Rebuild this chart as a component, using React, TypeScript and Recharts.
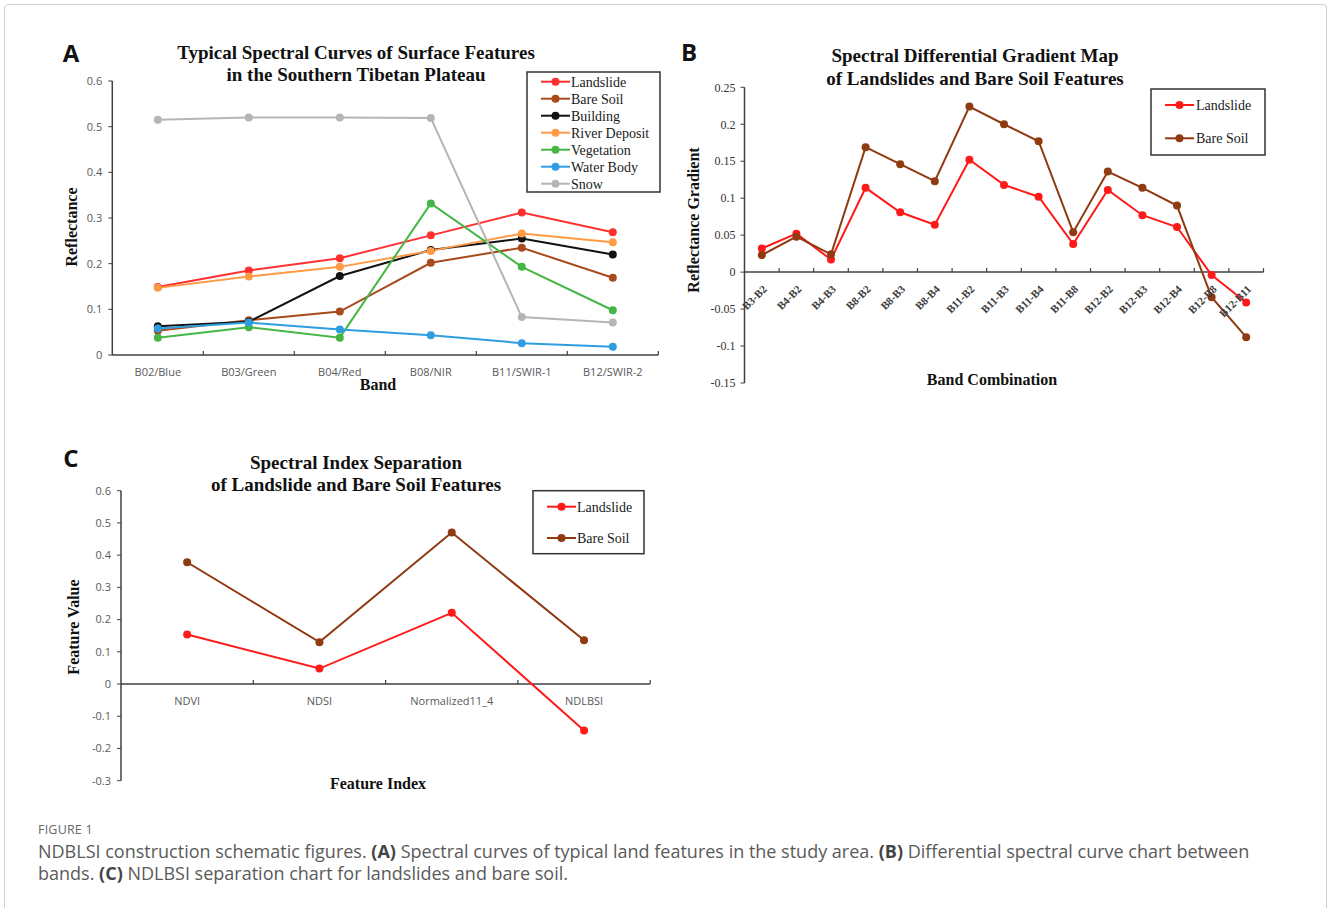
import React from "react";
import { LineChart, Line, XAxis, YAxis, ReferenceLine } from "recharts";

// ---- Panel A: typical spectral curves ----
const bands = ["B02/Blue", "B03/Green", "B04/Red", "B08/NIR", "B11/SWIR-1", "B12/SWIR-2"];
const landslideA = [0.149, 0.185, 0.212, 0.262, 0.312, 0.269];
const bareSoilA = [0.053, 0.076, 0.095, 0.202, 0.235, 0.169];
const buildingA = [0.063, 0.073, 0.173, 0.23, 0.255, 0.22];
const riverDepositA = [0.147, 0.172, 0.193, 0.228, 0.266, 0.247];
const vegetationA = [0.038, 0.061, 0.038, 0.332, 0.193, 0.098];
const waterBodyA = [0.058, 0.071, 0.056, 0.043, 0.026, 0.018];
const snowA = [0.515, 0.52, 0.52, 0.519, 0.083, 0.071];
const ticksA = [0, 0.1, 0.2, 0.3, 0.4, 0.5, 0.6];

// ---- Panel B: differential gradients ----
const combos = [
  "B3-B2", "B4-B2", "B4-B3", "B8-B2", "B8-B3", "B8-B4", "B11-B2", "B11-B3",
  "B11-B4", "B11-B8", "B12-B2", "B12-B3", "B12-B4", "B12-B8", "B12-B11",
];
const landslideB = [0.032, 0.052, 0.017, 0.114, 0.081, 0.064, 0.152, 0.118, 0.102, 0.038, 0.111, 0.077, 0.061, -0.004, -0.041];
const bareSoilB = [0.023, 0.048, 0.024, 0.169, 0.146, 0.123, 0.224, 0.2, 0.177, 0.054, 0.136, 0.114, 0.09, -0.034, -0.088];
const ticksB = [-0.15, -0.1, -0.05, 0, 0.05, 0.1, 0.15, 0.2, 0.25];

// ---- Panel C: index separation ----
const indices = ["NDVI", "NDSI", "Normalized11_4", "NDLBSI"];
const landslideC = [0.154, 0.048, 0.221, -0.144];
const bareSoilC = [0.378, 0.13, 0.47, 0.136];
const ticksC = [-0.3, -0.2, -0.1, 0, 0.1, 0.2, 0.3, 0.4, 0.5, 0.6];

const serif = "'Liberation Serif', 'Times New Roman', serif";
const sans = "'Open Sans', 'Liberation Sans', sans-serif";
const axisGrey = "#404040";

const seriesA = [
  { name: "Landslide", values: landslideA, color: "#ff3030" },
  { name: "Bare Soil", values: bareSoilA, color: "#a84a1c" },
  { name: "Building", values: buildingA, color: "#111111" },
  { name: "River Deposit", values: riverDepositA, color: "#ff9a45" },
  { name: "Vegetation", values: vegetationA, color: "#45b645" },
  { name: "Water Body", values: waterBodyA, color: "#2f9ee0" },
  { name: "Snow", values: snowA, color: "#b5b5b5" },
];
const seriesB = [
  { name: "Landslide", values: landslideB, color: "#ff1a1a" },
  { name: "Bare Soil", values: bareSoilB, color: "#8f3a10" },
];
const seriesC = [
  { name: "Landslide", values: landslideC, color: "#ff1a1a" },
  { name: "Bare Soil", values: bareSoilC, color: "#8f3a10" },
];

const dataA = bands.map((b, i) => {
  const row: Record<string, any> = { band: b };
  seriesA.forEach((s) => (row[s.name] = s.values[i]));
  return row;
});
const dataB = combos.map((c, i) => {
  const row: Record<string, any> = { combo: c };
  seriesB.forEach((s) => (row[s.name] = s.values[i]));
  return row;
});
const dataC = indices.map((c, i) => {
  const row: Record<string, any> = { index: c };
  seriesC.forEach((s) => (row[s.name] = s.values[i]));
  return row;
});

// plot geometry (px)
const A = { left: 30, top: 40, w: 640, h: 360, axisX: 112.3, plotR: 658.3, plotT: 81, plotB: 355 };
const B = { left: 680, top: 40, w: 600, h: 360, axisX: 744.5, plotR: 1263.5, plotT: 87.3, plotB: 383 };
const C = { left: 30, top: 450, w: 640, h: 345, axisX: 121, plotR: 650.2, plotT: 490.7, plotB: 780.7 };
const YW = 40;
const XH = 10;

const margins = (g: typeof A, xh: number) => ({
  left: g.axisX - g.left - YW,
  right: g.left + g.w - g.plotR,
  top: g.plotT - g.top,
  bottom: g.top + g.h - g.plotB - xh,
});

const halfA = (A.plotR - A.axisX) / bands.length / 2;
const halfB = (B.plotR - B.axisX) / combos.length / 2;
const halfC = (C.plotR - C.axisX) / indices.length / 2;

const Txt: React.FC<{ x: number; y: number; size: number; font?: string; bold?: boolean; rotate?: boolean; color?: string; children: React.ReactNode }> = ({ x, y, size, font = serif, bold = true, rotate, color = "#111", children }) => (
  <div
    style={{
      position: "absolute",
      left: x,
      top: y,
      transform: `translate(-50%, -50%)${rotate ? " rotate(-90deg)" : ""}`,
      whiteSpace: "nowrap",
      fontFamily: font,
      fontWeight: bold ? 700 : 400,
      fontSize: size,
      color,
      lineHeight: 1,
    }}
  >
    {children}
  </div>
);

const LegendBox: React.FC<{
  series: { name: string; color: string }[];
  left: number; top: number; width: number; height: number;
  rows: number[]; lineX: [number, number]; textX: number;
}> = ({ series, left, top, width, height, rows, lineX, textX }) => (
  <svg style={{ position: "absolute", left: 0, top: 0 }} width={1328} height={908} pointerEvents="none">
    <rect x={left} y={top} width={width} height={height} fill="#fff" stroke="#333" strokeWidth={1.5} />
    {series.map((s, i) => (
      <g key={s.name}>
        <line x1={lineX[0]} x2={lineX[1]} y1={rows[i]} y2={rows[i]} stroke={s.color} strokeWidth={2} />
        <circle cx={(lineX[0] + lineX[1]) / 2} cy={rows[i]} r={4} fill={s.color} />
        <text x={textX} y={rows[i]} dy="0.35em" fontFamily={serif} fontSize={14} fill="#1a1a1a">
          {s.name}
        </text>
      </g>
    ))}
  </svg>
);

// tick: category label plus a boundary tick pointing up from the axis line
const makeTick = (halfBand: number, shift: number, rotated: boolean) => (props: any) => {
  const { x, y, payload } = props;
  const y0 = y - shift;
  return (
    <g>
      <line x1={x + halfBand} x2={x + halfBand} y1={y0} y2={y0 - 4} stroke={axisGrey} strokeWidth={1.2} />
      {rotated ? (
        <text
          transform={`translate(${x + 3},${y0 + 15}) rotate(-45)`}
          textAnchor="end"
          dy="0.35em"
          fontFamily={serif}
          fontWeight={700}
          fontSize={11}
          fill="#3a3a3a"
        >
          {payload.value}
        </text>
      ) : (
        <text x={x} y={y0 + 17} dy="0.35em" textAnchor="middle" fontFamily={sans} fontSize={11} fill="#595959">
          {payload.value}
        </text>
      )}
    </g>
  );
};

const tickA = makeTick(halfA, 0, false);
const tickB = makeTick(
  halfB,
  ((B.plotB - B.plotT) * (0 - ticksB[0])) / (ticksB[ticksB.length - 1] - ticksB[0]),
  true
);
const tickC = makeTick(
  halfC,
  ((C.plotB - C.plotT) * (0 - ticksC[0])) / (ticksC[ticksC.length - 1] - ticksC[0]),
  false
);

const lineFor = (s: { name: string; color: string }) => (
  <Line
    key={s.name}
    type="linear"
    dataKey={s.name}
    stroke={s.color}
    strokeWidth={2}
    dot={{ r: 4, fill: s.color, stroke: s.color, strokeWidth: 0 }}
    activeDot={false}
    isAnimationActive={false}
  />
);

const bold = { color: "#444" };

export default function App() {
  return (
    <div style={{ position: "absolute", left: 0, top: 0, width: 1328, height: 908, background: "#fff", overflow: "hidden" }}>
      <div style={{ position: "absolute", left: 4, top: 4, width: 1321, height: 940, border: "1px solid #cfcfcf", borderRadius: 4 }} />

      {/* Panel A */}
      <div style={{ position: "absolute", left: A.left, top: A.top }}>
        <LineChart width={A.w} height={A.h} data={dataA} margin={margins(A, 30)}>
          <XAxis dataKey="band" height={30} padding={{ left: halfA, right: halfA }} tickSize={0} tickMargin={0} tick={tickA} axisLine={{ stroke: axisGrey, strokeWidth: 1.5 }} tickLine={false} interval={0} />
          <YAxis
            width={YW}
            domain={[0, 0.6]}
            ticks={ticksA}
            tickSize={4}
            tickMargin={6}
            axisLine={{ stroke: axisGrey, strokeWidth: 1.5 }}
            tickLine={{ stroke: axisGrey }}
            tick={{ fontFamily: sans, fontSize: 11, fill: "#595959" }}
          />
          {seriesA.map(lineFor)}
        </LineChart>
      </div>
      <Txt x={71} y={53} size={24} font={sans}>A</Txt>
      <Txt x={356} y={51.5} size={19}>Typical Spectral Curves of Surface Features</Txt>
      <Txt x={356} y={73.5} size={19}>in the Southern Tibetan Plateau</Txt>
      <Txt x={72} y={227} size={16} rotate>Reflectance</Txt>
      <Txt x={378} y={385} size={16}>Band</Txt>
      <LegendBox
        series={seriesA}
        left={527}
        top={72}
        width={133}
        height={120}
        rows={[81.7, 98.7, 115.7, 132.7, 149.7, 166.7, 183.7]}
        lineX={[541, 570]}
        textX={571}
      />

      {/* Panel B */}
      <div style={{ position: "absolute", left: B.left, top: B.top }}>
        <LineChart width={B.w} height={B.h} data={dataB} margin={margins(B, XH)}>
          <XAxis dataKey="combo" height={XH} padding={{ left: halfB, right: halfB }} tickSize={0} tickMargin={0} tick={tickB} axisLine={false} tickLine={false} interval={0} />
          <YAxis
            width={YW}
            domain={[-0.15, 0.25]}
            ticks={ticksB}
            tickSize={4}
            tickMargin={5}
            axisLine={{ stroke: axisGrey, strokeWidth: 1.5 }}
            tickLine={{ stroke: axisGrey }}
            tick={{ fontFamily: serif, fontSize: 12, fill: "#333" }}
          />
          <ReferenceLine y={0} stroke={axisGrey} strokeWidth={1.5} />
          {seriesB.map(lineFor)}
        </LineChart>
      </div>
      <Txt x={689} y={52} size={24} font={sans}>B</Txt>
      <Txt x={975} y={55} size={19}>Spectral Differential Gradient Map</Txt>
      <Txt x={975} y={77.5} size={19}>of Landslides and Bare Soil Features</Txt>
      <Txt x={694} y={220} size={16} rotate>Reflectance Gradient</Txt>
      <Txt x={992} y={380} size={16}>Band Combination</Txt>
      <LegendBox
        series={seriesB}
        left={1151}
        top={89}
        width={114}
        height={66}
        rows={[105, 138.3]}
        lineX={[1165, 1194]}
        textX={1196}
      />

      {/* Panel C */}
      <div style={{ position: "absolute", left: C.left, top: C.top }}>
        <LineChart width={C.w} height={C.h} data={dataC} margin={margins(C, XH)}>
          <XAxis dataKey="index" height={XH} padding={{ left: halfC, right: halfC }} tickSize={0} tickMargin={0} tick={tickC} axisLine={false} tickLine={false} interval={0} />
          <YAxis
            width={YW}
            domain={[-0.3, 0.6]}
            ticks={ticksC}
            tickSize={4}
            tickMargin={6}
            axisLine={{ stroke: axisGrey, strokeWidth: 1.5 }}
            tickLine={{ stroke: axisGrey }}
            tick={{ fontFamily: sans, fontSize: 11, fill: "#595959" }}
          />
          <ReferenceLine y={0} stroke={axisGrey} strokeWidth={1.5} />
          {seriesC.map(lineFor)}
        </LineChart>
      </div>
      <Txt x={71} y={458} size={24} font={sans}>C</Txt>
      <Txt x={356} y={461.7} size={19}>Spectral Index Separation</Txt>
      <Txt x={356} y={483.5} size={19}>of Landslide and Bare Soil Features</Txt>
      <Txt x={74} y={627} size={16} rotate>Feature Value</Txt>
      <Txt x={378} y={784} size={16}>Feature Index</Txt>
      <LegendBox
        series={seriesC}
        left={533}
        top={490.7}
        width={111}
        height={63}
        rows={[506.7, 538]}
        lineX={[547, 576]}
        textX={577}
      />

      {/* Caption */}
      <div style={{ position: "absolute", left: 38, top: 823, fontFamily: sans, fontSize: 12.5, lineHeight: "14px", color: "#666", letterSpacing: 0.2 }}>FIGURE 1</div>
      <div style={{ position: "absolute", left: 38, top: 840, fontFamily: sans, fontSize: 18, lineHeight: "22px", color: "#5a5a5a", whiteSpace: "nowrap" }}>
        NDBLSI construction schematic figures. <b style={bold}>(A)</b> Spectral curves of typical land features in the study area. <b style={bold}>(B)</b> Differential spectral curve chart between
        <br />
        bands. <b style={bold}>(C)</b> NDLBSI separation chart for landslides and bare soil.
      </div>
    </div>
  );
}
